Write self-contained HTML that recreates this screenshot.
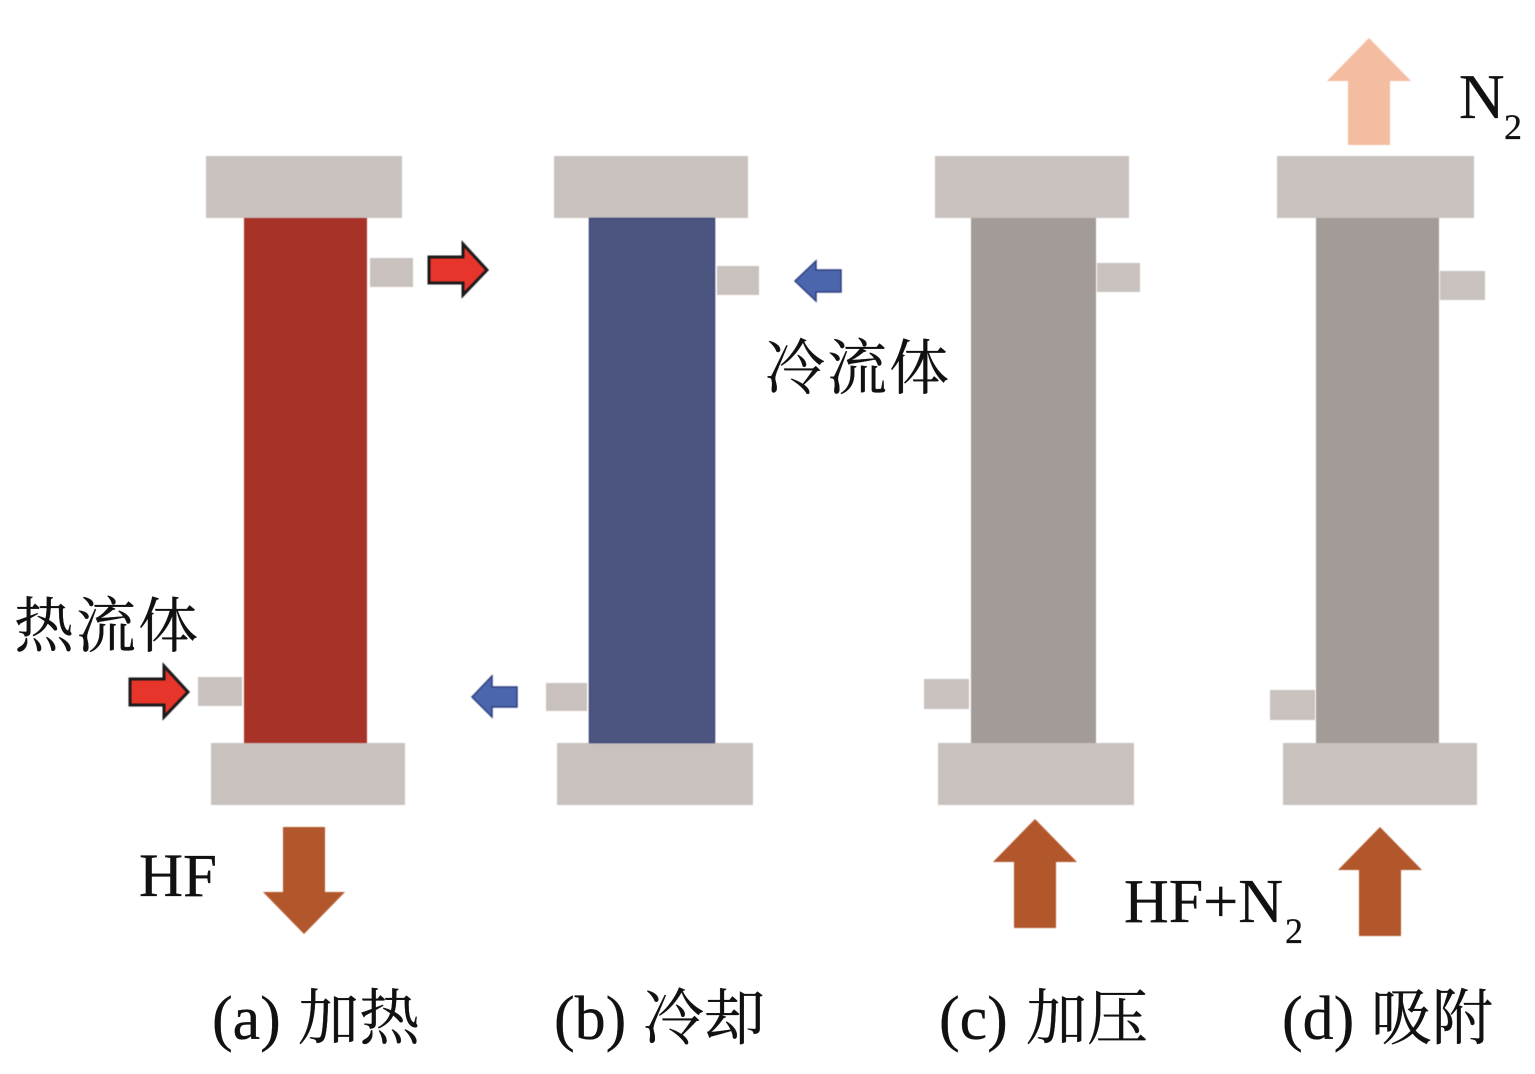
<!DOCTYPE html>
<html>
<head>
<meta charset="utf-8">
<style>
html,body{margin:0;padding:0;background:#fff;width:1535px;height:1074px;overflow:hidden}
svg{display:block}
text{font-family:"Liberation Serif","Noto Serif CJK SC",serif;fill:#111;stroke:#111;stroke-width:0.3px}
.shapes{filter:blur(0.5px)}
</style>
</head>
<body>
<svg width="1535" height="1074" viewBox="0 0 1535 1074" xmlns="http://www.w3.org/2000/svg">
<rect width="1535" height="1074" fill="#fff"/>
<g class="shapes">
<g fill="#c9c1bd">
<rect x="206" y="156" width="196" height="62"/>
<rect x="211" y="743" width="194" height="62"/>
<rect x="370" y="258" width="43" height="29"/>
<rect x="198" y="677" width="44" height="29"/>
<rect x="554" y="156" width="194" height="62"/>
<rect x="557" y="743" width="196" height="62"/>
<rect x="717" y="266" width="42" height="29"/>
<rect x="546" y="683" width="41" height="28"/>
<rect x="935" y="156" width="194" height="62"/>
<rect x="938" y="743" width="196" height="62"/>
<rect x="1097" y="263" width="43" height="29"/>
<rect x="924" y="679" width="45" height="30"/>
<rect x="1277" y="156" width="197" height="62"/>
<rect x="1283" y="743" width="194" height="62"/>
<rect x="1440" y="271" width="45" height="29"/>
<rect x="1270" y="690" width="45" height="30"/>
</g>
<rect x="244" y="218" width="123" height="525" fill="#a63228"/>
<rect x="589.5" y="218.5" width="125" height="524" fill="#4c5480" stroke="#3e4878" stroke-width="1.5"/>
<rect x="971" y="218" width="125" height="525" fill="#a39b98"/>
<rect x="1316" y="218" width="123" height="525" fill="#a39b98"/>
<g fill="#e8352b" stroke="#1a1a1a" stroke-width="3">
<polygon points="429,257 463,257 463,244 487,270 463,295 463,283 429,283"/>
<polygon points="130,679 164,679 164,666 188,692 164,717 164,705 130,705"/>
</g>
<g fill="#4c66ae" stroke="#2e3f80" stroke-width="1.5">
<polygon points="841,270 816,270 816,261 795,281 816,301 816,292 841,292"/>
<polygon points="517,687 492,687 492,676 472,697 492,717 492,707 517,707"/>
</g>
<g fill="#b1572b">
<polygon points="283,827 325,827 325,892 345,892 304,934 263,892 283,892"/>
<polygon points="1014,928 1056,928 1056,862 1077,862 1035,819 993,862 1014,862"/>
<polygon points="1359,936 1401,936 1401,870 1422,870 1380,827 1338,870 1359,870"/>
</g>
<polygon points="1348,145 1390,145 1390,81 1411,81 1369,38 1327,81 1348,81" fill="#f4bca0"/>
</g>
<text x="1459" y="118" font-size="63">N</text>
<text x="1504" y="139" font-size="36">2</text>
<text x="765" y="389" font-size="60" textLength="184">冷流体</text>
<text x="14" y="647" font-size="60" textLength="184">热流体</text>
<text x="139" y="896" font-size="61">HF</text>
<text x="1124" y="922" font-size="62">HF+N</text>
<text x="1285" y="943" font-size="36">2</text>
<text x="212" y="1039" font-size="62">(a)</text><text x="298" y="1039" font-size="61">加热</text>
<text x="554" y="1039" font-size="62">(b)</text><text x="643" y="1039" font-size="61">冷却</text>
<text x="939" y="1039" font-size="62">(c)</text><text x="1026" y="1039" font-size="61">加压</text>
<text x="1282" y="1039" font-size="62">(d)</text><text x="1371" y="1039" font-size="61">吸附</text>
</svg>
</body>
</html>
